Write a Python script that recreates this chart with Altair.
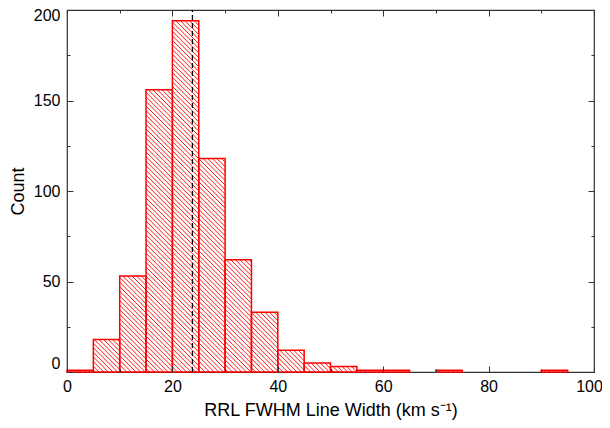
import altair as alt
import pandas as pd
import numpy as np

# ---- data ----
BIN_STARTS = [0, 5, 10, 15, 20, 25, 30, 35, 40, 45, 50, 55, 60, 65, 70, 75, 80, 85, 90, 95]
COUNTS = [1, 18, 53, 156, 194, 118, 62, 33, 12, 5, 3, 1, 1, 0, 1, 0, 0, 0, 1, 0]
BIN_WIDTH = 5
MEAN_WIDTH = [23.8]
X_DOMAIN = [0, 100]
Y_DOMAIN = [0, 200]
X_MAJOR = [0, 20, 40, 60, 80, 100]
X_MINOR = [10, 30, 50, 70, 90]
Y_MAJOR = [0, 50, 100, 150, 200]
Y_MINOR = [25, 75, 125, 175]
X_TITLE = "RRL FWHM Line Width (km s\u207b\u00b9)"
Y_TITLE = "Count"

# ---- layout / style ----
W, H = 527, 362
FONT = "Liberation Sans"
RED = "#ff0000"
FRAME = "#333333"
MAJOR, MINOR = 6, 3
HATCH_STEP = 4.6  # px between hatch lines (horizontal)

bars = pd.DataFrame({
    "x0": BIN_STARTS,
    "x1": [b + BIN_WIDTH for b in BIN_STARTS],
    "count": COUNTS,
})
bars = bars[bars["count"] > 0].reset_index(drop=True)

# hatch segments ("\" direction) derived from the bars, in data units
sx = W / (X_DOMAIN[1] - X_DOMAIN[0])
sy = H / (Y_DOMAIN[1] - Y_DOMAIN[0])
segs = []
for x0, x1, c in zip(bars["x0"], bars["x1"], bars["count"]):
    U0, U1, V = x0 * sx, x1 * sx, c * sy
    k = int(np.floor(U0 / HATCH_STEP)) + 1
    while k * HATCH_STEP < U1 + V:
        cc = k * HATCH_STEP
        ua = max(U0, cc - V)
        ub = min(U1, cc)
        if ub > ua:
            segs.append({"xa": ua / sx, "ya": (cc - ua) / sy,
                         "xb": ub / sx, "yb": (cc - ub) / sy})
        k += 1
hatch = pd.DataFrame(segs)

mean_df = pd.DataFrame({"m": MEAN_WIDTH, "lo": [Y_DOMAIN[0]], "hi": [Y_DOMAIN[1]]})

xs = alt.Scale(domain=X_DOMAIN, nice=False, zero=False)
ys = alt.Scale(domain=Y_DOMAIN, nice=False)


def ax(orient, values, size, labels=False, title=None, **extra):
    kw = dict(orient=orient, values=values, tickSize=size, offset=-size,
              domain=False, grid=False, labels=labels, ticks=True,
              tickColor=FRAME, tickWidth=1, zindex=2, title=title)
    if labels:
        kw.update(labelFont=FONT, labelFontSize=16, labelColor="black",
                  labelFlush=False, labelOverlap=False)
    if title:
        kw.update(titleFont=FONT, titleFontSize=18, titleFontWeight="normal",
                  titleColor="black")
    kw.update(extra)
    return alt.Axis(**kw)


fill_layer = alt.Chart(bars).mark_bar(fill="white", strokeWidth=0).encode(
    x=alt.X("x0:Q", scale=xs, axis=ax("top", X_MINOR, MINOR)),
    x2="x1:Q",
    y=alt.Y("count:Q", scale=ys, axis=ax("right", Y_MINOR, MINOR)),
    y2=alt.Y2(datum=0),
)

hatch_layer = alt.Chart(hatch).mark_rule(color=RED, strokeWidth=0.9).encode(
    x=alt.X("xa:Q", scale=xs,
            axis=ax("bottom", X_MAJOR, MAJOR, labels=True, title=X_TITLE,
                    labelPadding=6, titlePadding=7,
                    labelOffset={"condition": {"test": "datum.value === 100", "value": -5}, "value": 0})),
    x2="xb:Q",
    y=alt.Y("ya:Q", scale=ys,
            axis=ax("left", Y_MAJOR, MAJOR, labels=True, title=Y_TITLE,
                    labelPadding=7, titlePadding=6,
                    labelOffset={"condition": [
                        {"test": "datum.value === 0", "value": -9},
                        {"test": "datum.value === 200", "value": 5},
                    ], "value": 0})),
    y2="yb:Q",
)

outline_layer = alt.Chart(bars).mark_bar(fill="transparent", stroke=RED, strokeWidth=1.5).encode(
    x=alt.X("x0:Q", scale=xs, axis=ax("bottom", X_MINOR, MINOR)),
    x2="x1:Q",
    y=alt.Y("count:Q", scale=ys, axis=ax("left", Y_MINOR, MINOR)),
    y2=alt.Y2(datum=0),
)

mean_layer = alt.Chart(mean_df).mark_rule(color="black", strokeWidth=1.3, strokeDash=[5, 3]).encode(
    x=alt.X("m:Q", scale=xs, axis=ax("top", X_MAJOR, MAJOR)),
    y=alt.Y("lo:Q", scale=ys, axis=ax("right", Y_MAJOR, MAJOR)),
    y2="hi:Q",
)

chart = alt.layer(fill_layer, hatch_layer, outline_layer, mean_layer).resolve_axis(
    x="independent", y="independent"
).properties(
    width=W, height=H,
    autosize=alt.AutoSizeParams(type="none"),
    padding={"left": 59, "top": 2, "right": 8, "bottom": 48},
).configure_view(stroke=FRAME, strokeWidth=1.2)

chart.save("out.html", embed_options={"renderer": "svg", "actions": False})
